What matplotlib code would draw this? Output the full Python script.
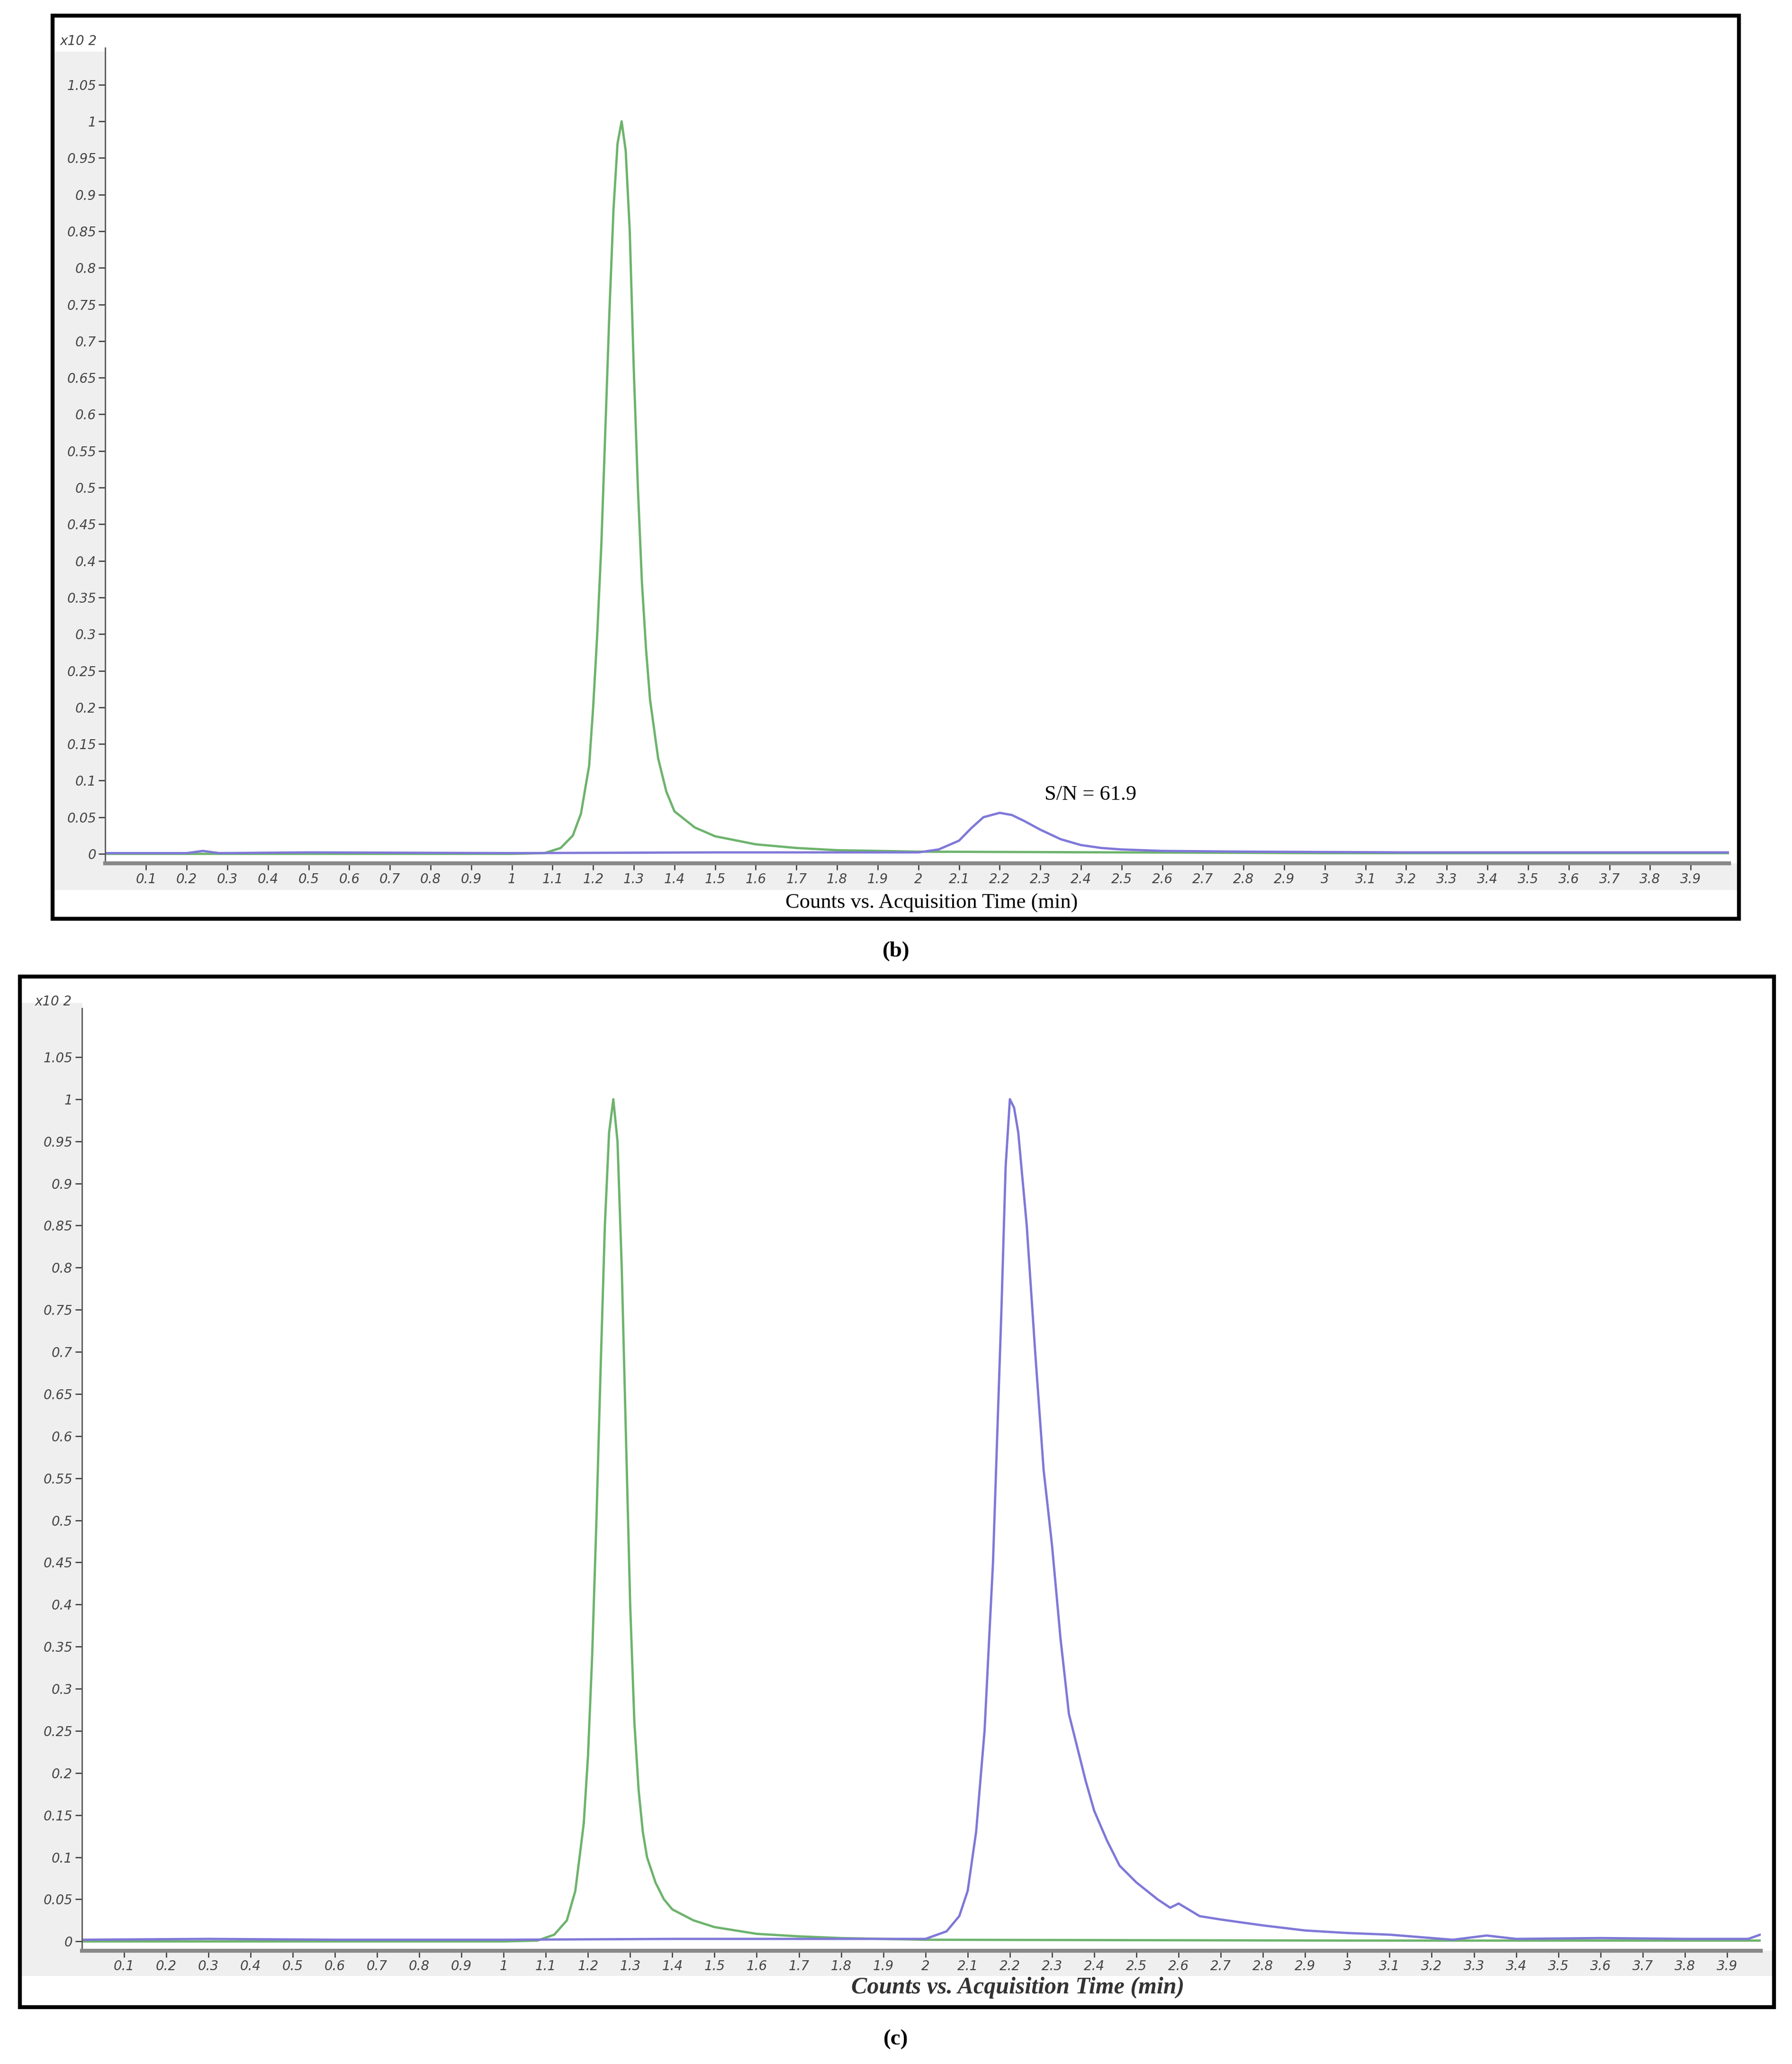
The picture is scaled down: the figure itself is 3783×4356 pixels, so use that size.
import matplotlib
matplotlib.use("Agg")
import matplotlib.pyplot as plt
from matplotlib.patches import Rectangle
import numpy as np

# ---- data (time in min, counts x10^2) ----
b_green_t = [0.0, 0.5, 1.0, 1.08, 1.12, 1.15, 1.17, 1.19, 1.2, 1.21, 1.22, 1.23, 1.24, 1.25, 1.26, 1.27,
             1.28, 1.29, 1.3, 1.31, 1.32, 1.33, 1.34, 1.36, 1.38, 1.4, 1.45, 1.5, 1.6, 1.7, 1.8, 2.0, 2.5, 3.0, 4.0]
b_green_y = [0.0, 0.0, 0.0, 0.001, 0.008, 0.025, 0.055, 0.12, 0.2, 0.3, 0.42, 0.58, 0.74, 0.88, 0.97, 1.0,
             0.96, 0.85, 0.66, 0.5, 0.37, 0.28, 0.21, 0.13, 0.085, 0.058, 0.036, 0.024, 0.013, 0.008, 0.005,
             0.003, 0.002, 0.001, 0.001]
b_blue_t = [0.0, 0.2, 0.24, 0.28, 0.5, 1.0, 1.5, 2.0, 2.05, 2.1, 2.13, 2.16, 2.2, 2.23, 2.26, 2.3,
            2.35, 2.4, 2.45, 2.5, 2.6, 2.8, 3.2, 3.6, 4.0]
b_blue_y = [0.001, 0.001, 0.004, 0.001, 0.002, 0.001, 0.002, 0.002, 0.006, 0.018, 0.035, 0.05, 0.056, 0.053,
            0.045, 0.033, 0.02, 0.012, 0.008, 0.006, 0.004, 0.003, 0.002, 0.002, 0.002]

c_green_t = [0.0, 0.5, 1.0, 1.08, 1.12, 1.15, 1.17, 1.19, 1.2, 1.21, 1.22, 1.23, 1.24, 1.25, 1.26, 1.27,
             1.28, 1.29, 1.3, 1.31, 1.32, 1.33, 1.34, 1.36, 1.38, 1.4, 1.45, 1.5, 1.6, 1.7, 1.8, 2.0, 3.0, 4.0]
c_green_y = [0.0, 0.0, 0.0, 0.001, 0.008, 0.025, 0.06, 0.14, 0.22, 0.34, 0.5, 0.68, 0.85, 0.96, 1.0, 0.95,
             0.8, 0.6, 0.4, 0.26, 0.18, 0.13, 0.1, 0.07, 0.05, 0.038, 0.025, 0.017, 0.009, 0.006, 0.004,
             0.002, 0.001, 0.001]
c_blue_t = [0.0, 0.3, 0.6, 1.0, 1.4, 1.8, 2.0, 2.05, 2.08, 2.1, 2.12, 2.14, 2.16, 2.18, 2.19, 2.2, 2.21,
            2.22, 2.24, 2.26, 2.28, 2.3, 2.32, 2.34, 2.36, 2.38, 2.4, 2.43, 2.46, 2.5, 2.55, 2.58, 2.6, 2.65,
            2.7, 2.8, 2.9, 3.0, 3.1, 3.2, 3.25, 3.33, 3.4, 3.6, 3.8, 3.95, 3.99]
c_blue_y = [0.002, 0.003, 0.002, 0.002, 0.003, 0.003, 0.003, 0.012, 0.03, 0.06, 0.13, 0.25, 0.45, 0.75,
            0.92, 1.0, 0.99, 0.96, 0.85, 0.7, 0.56, 0.47, 0.36, 0.27, 0.23, 0.19, 0.155, 0.12, 0.09, 0.07,
            0.05, 0.04, 0.045, 0.03, 0.026, 0.019, 0.013, 0.01, 0.008, 0.004, 0.002, 0.007, 0.003, 0.004,
            0.003, 0.003, 0.01]

x_ticks = np.round(np.arange(0.1, 4.0, 0.1), 1)
y_ticks = np.round(np.arange(0, 1.06, 0.05), 2)

GREEN = "#6db36d"
BLUE = "#7f78d8"
GRAY_BG = "#efefef"
TICK_C = "#444444"
SERIF = ["Liberation Serif", "DejaVu Serif"]

fig = plt.figure(figsize=(37.83, 43.56), dpi=100)


def panel(rect, frame, band, ylim, xmax, gt, gy, bt, by, lw):
    # outer frame
    fig.patches.append(Rectangle(frame[:2], frame[2], frame[3], transform=fig.transFigure,
                                 fill=False, edgecolor="black", linewidth=6, zorder=5))
    # gray bands (tick regions), drawn beneath the axes
    fig.patches.append(Rectangle((frame[0], band[0]), rect[0] - frame[0], band[1] - band[0],
                                 transform=fig.transFigure, color=GRAY_BG, zorder=-5))
    fig.patches.append(Rectangle((frame[0], band[2]), frame[2], rect[1] - band[2],
                                 transform=fig.transFigure, color=GRAY_BG, zorder=-5))
    ax = fig.add_axes(rect)
    ax.set_zorder(2)
    ax.plot(gt, gy, color=GREEN, lw=lw)
    ax.plot(bt, by, color=BLUE, lw=lw)
    ax.set_xlim(0, xmax)
    ax.set_ylim(*ylim)
    ax.set_xticks(x_ticks)
    ax.set_xticklabels([f"{v:g}" for v in x_ticks])
    ax.set_yticks(y_ticks)
    ax.set_yticklabels([f"{v:g}" for v in y_ticks])
    for s in ("top", "right"):
        ax.spines[s].set_visible(False)
    ax.spines["left"].set_color("#555555")
    ax.spines["bottom"].set_color("#888888")
    ax.spines["left"].set_linewidth(2)
    ax.spines["bottom"].set_linewidth(6)
    ax.tick_params(axis="both", colors=TICK_C, labelsize=20, length=10, width=2, pad=4)
    for lab in ax.get_xticklabels() + ax.get_yticklabels():
        lab.set_fontstyle("italic")
    ax.text(-0.028, 1.0, "x10 2", transform=ax.transAxes, fontsize=20, style="italic",
            color=TICK_C, ha="left", va="bottom")
    return ax


ax_b = panel([0.0588, 0.5817, 0.906, 0.395], [0.0294, 0.5549, 0.941, 0.4375],
             [0.5817, 0.975, 0.569], (-0.013, 1.10), 3.994,
             b_green_t, b_green_y, b_blue_t, b_blue_y, 3.5)
ax_b.text(2.31, 0.068, "S/N = 61.9", fontsize=32, family=SERIF, ha="left", va="bottom")
fig.text(0.52, 0.5626, "Counts vs. Acquisition Time (min)", fontsize=32, family=SERIF,
         ha="center", va="center")
fig.text(0.5, 0.539, "(b)", fontsize=34, family=SERIF, weight="bold", ha="center", va="center")

ax_c = panel([0.0456, 0.0549, 0.937, 0.4566], [0.011, 0.0275, 0.979, 0.4994],
             [0.0549, 0.514, 0.043], (-0.011, 1.108), 3.98,
             c_green_t, c_green_y, c_blue_t, c_blue_y, 3.5)
fig.text(0.568, 0.037, "Counts vs. Acquisition Time (min)", fontsize=36, family=SERIF,
         style="italic", weight="bold", color="#333333", ha="center", va="center")
fig.text(0.5, 0.012, "(c)", fontsize=34, family=SERIF, weight="bold", ha="center", va="center")

fig.savefig("out.png", dpi=100, facecolor="white")
